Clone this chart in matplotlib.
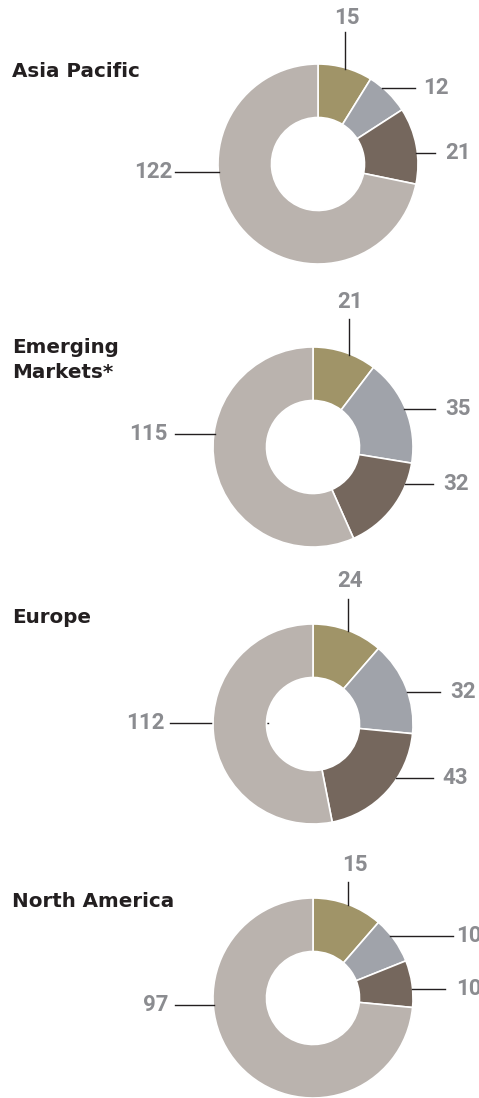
import numpy as np
import matplotlib.pyplot as plt

# headcount by region, split into four groups
regions = ["Asia Pacific", "Emerging\nMarkets*", "Europe", "North America"]
group_a = [15, 21, 24, 15]
group_b = [12, 35, 32, 10]
group_c = [21, 32, 43, 10]
group_d = [122, 115, 112, 97]
colors = ["#A09468", "#A0A3AA", "#75675D", "#BAB3AE"]

W, H = 479, 1098
R_OUT, R_IN = 100, 46.5
LINE_C = "#231F20"
NUM_C = "#8B8C90"

# pixel layout for each donut: centre, title baseline (last line) and label spots
layout = [
    dict(center=(318, 164), title_y=77,
         top=(347, 18, 345, 32), right=[(88, 415, 423), (153, 435, 445)],
         left=(172, 175, 173, None)),
    dict(center=(313, 447), title_y=378,
         top=(350, 302, 349, 319), right=[(409, 435, 445), (484, 433, 443)],
         left=(434, 175, 168, None)),
    dict(center=(313, 724), title_y=623,
         top=(350, 581, 348, 599), right=[(692, 440, 450), (778, 433, 442)],
         left=(723, 170, 165, 268)),
    dict(center=(313, 998), title_y=907,
         top=(355, 865, 348, 882), right=[(936, 453, 456), (989, 445, 456)],
         left=(1005, 175, 168, None)),
]

fig = plt.figure(figsize=(W / 100, H / 100), dpi=100)
ax = fig.add_axes([0, 0, 1, 1])
ax.set_xlim(0, W)
ax.set_ylim(H, 0)

num_font = dict(family="Roboto", fontweight="bold", fontsize=16, color=NUM_C)

for i, name in enumerate(regions):
    vals = [group_a[i], group_b[i], group_c[i], group_d[i]]
    lay = layout[i]
    cx, cy = lay["center"]

    ax.pie(vals, colors=colors, center=(cx, cy), radius=R_OUT,
           startangle=-90, counterclock=True,
           wedgeprops=dict(width=R_OUT - R_IN, edgecolor="white", linewidth=1.2))

    ax.text(12, lay["title_y"], name, family="DejaVu Sans", fontweight="bold",
            fontsize=14.3, color="#231F20", ha="left", va="baseline",
            linespacing=1.38)

    # first group: label above, vertical leader
    tx, ty, lx, ly = lay["top"]
    y_edge = cy - np.sqrt(R_OUT**2 - (lx - cx) ** 2)
    ax.plot([lx, lx], [ly, y_edge + 1], color=LINE_C, lw=1, zorder=3)
    ax.text(tx, ty, str(vals[0]), ha="center", va="center", **num_font)

    # second and third groups: labels on the right
    for (y, x_end, x_txt), v in zip(lay["right"], vals[1:3]):
        x_edge = cx + np.sqrt(R_OUT**2 - (y - cy) ** 2)
        ax.plot([x_edge - 1, x_end], [y, y], color=LINE_C, lw=1, zorder=3)
        ax.text(x_txt, y, str(v), ha="left", va="center", **num_font)

    # largest group: label on the left
    y, x_start, x_txt, x_stop = lay["left"]
    if x_stop is None:
        x_stop = cx - np.sqrt(R_OUT**2 - (y - cy) ** 2) + 1
        z = 3
    else:
        z = 0
    ax.plot([x_start, x_stop], [y, y], color=LINE_C, lw=1, zorder=z)
    ax.text(x_txt, y, str(vals[3]), ha="right", va="center", **num_font)

ax.set_xlim(0, W)
ax.set_ylim(H, 0)
ax.set_aspect("auto")
ax.axis("off")

fig.savefig("out.png", dpi=100, facecolor="white")
